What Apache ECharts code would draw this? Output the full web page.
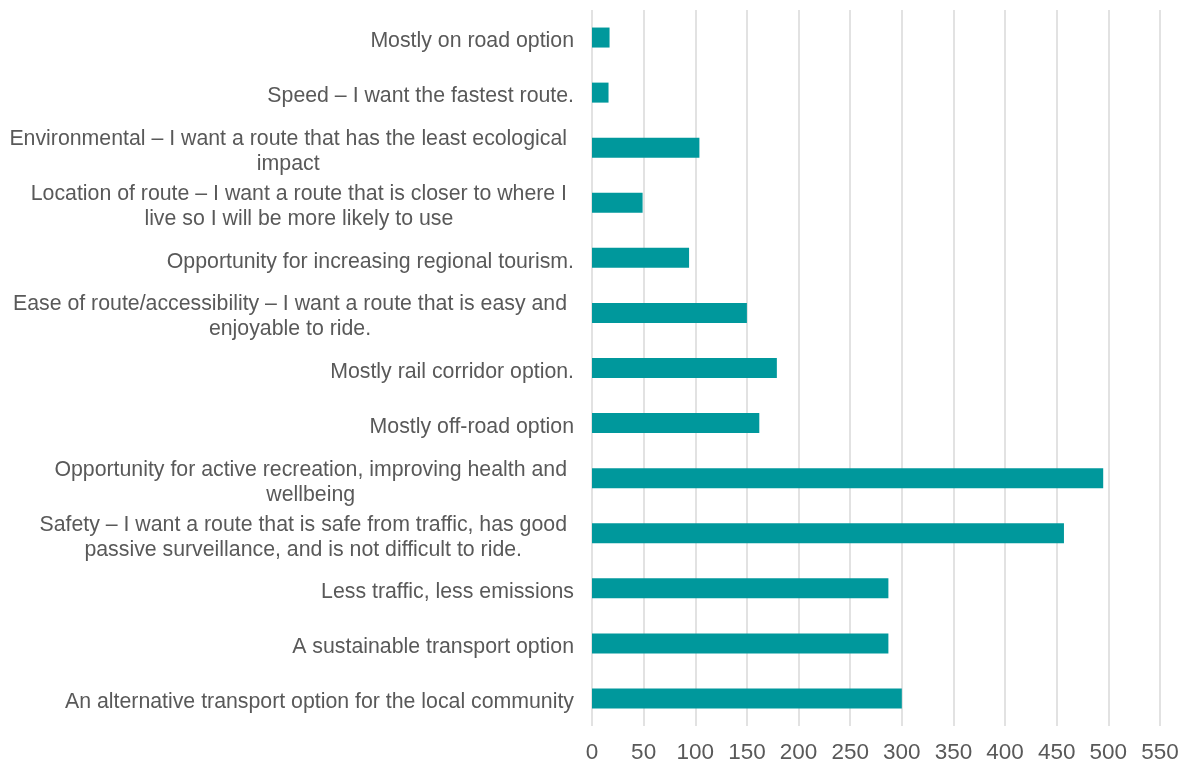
<!DOCTYPE html>
<html>
<head>
<meta charset="utf-8">
<script src="https://cdn.jsdelivr.net/npm/echarts@6/dist/echarts.min.js"></script>
<style>
html,body{margin:0;padding:0;background:#fff;}
#chart{width:1183px;height:764px;}
</style>
</head>
<body>
<div id="chart"></div>
<script>
// Categories listed top to bottom as in the picture ("\n" = wrapped line)
var categories = [
  "Mostly on road option",
  "Speed – I want the fastest route.",
  "Environmental – I want a route that has the least ecological\nimpact",
  "Location of route – I want a route that is closer to where I\nlive so I will be more likely to use",
  "Opportunity for increasing regional tourism.",
  "Ease of route/accessibility – I want a route that is easy and\nenjoyable to ride.",
  "Mostly rail corridor option.",
  "Mostly off-road option",
  "Opportunity for active recreation, improving health and\nwellbeing",
  "Safety – I want a route that is safe from traffic, has good\npassive surveillance, and is not difficult to ride.",
  "Less traffic, less emissions",
  "A sustainable transport option",
  "An alternative transport option for the local community"
];
var values = [17, 16, 104, 49, 94, 150, 179, 162, 495, 457, 287, 287, 300];
var xTicks = {min: 0, max: 550, interval: 50};

var FONT = 'Liberation Sans, Arial, sans-serif';
var chart = echarts.init(document.getElementById('chart'), null, {renderer: 'canvas'});
chart.setOption({
  animation: false,
  backgroundColor: '#ffffff',
  grid: {left: 592, right: 23, top: 10, bottom: 38, containLabel: false},
  xAxis: {
    type: 'value',
    min: xTicks.min, max: xTicks.max, interval: xTicks.interval,
    axisLine: {show: false},
    axisTick: {show: false},
    axisLabel: {
      color: '#595959', fontSize: 22.5, fontFamily: FONT,
      margin: 15
    },
    splitLine: {show: true, lineStyle: {color: '#d9d9d9', width: 1.5}}
  },
  yAxis: {
    type: 'category',
    inverse: true,
    data: categories,
    axisLine: {show: false},
    axisTick: {show: false},
    axisLabel: {
      align: 'right',
      margin: 18,
      interval: 0,
      padding: [8, 0, 0, 0],
      fontSize: 21.3,
      color: '#595959',
      fontFamily: FONT,
      formatter: function (v) {
        var lines = v.split('\n');
        var key = lines.length > 1 ? 'm' : 's';
        return lines.map(function (l) { return '{' + key + '|' + l + '}'; }).join('\n');
      },
      rich: {
        s: {align: 'center', fontSize: 21.3, lineHeight: 25, color: '#595959', fontFamily: FONT},
        m: {align: 'center', fontSize: 21.3, lineHeight: 25, color: '#595959', fontFamily: FONT,
            padding: [0, 7, 0, 0]}
      }
    }
  },
  series: [{
    type: 'bar',
    data: values,
    barWidth: 20,
    itemStyle: {color: '#00989c'}
  }]
});
</script>
</body>
</html>
